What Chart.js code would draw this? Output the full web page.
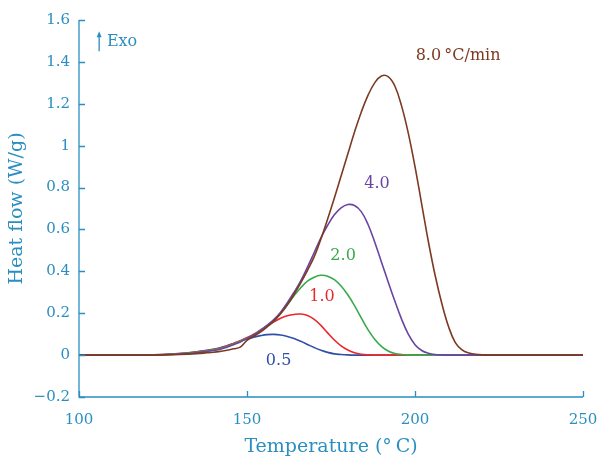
<!DOCTYPE html>
<html>
<head>
<meta charset="utf-8">
<script src="https://cdn.jsdelivr.net/npm/chart.js@4.4.1/dist/chart.umd.min.js"></script>
<style>
  html, body { margin: 0; padding: 0; background: #ffffff; }
  #wrap { width: 598px; height: 458px; position: relative; }
</style>
</head>
<body>
<div id="wrap"><canvas id="c" width="598" height="458"></canvas></div>
<script>
// ---- data ----
const temperature = [100,110,120,125,130,135,138,140,142,144,146,148,150,152,154,156,158,160,162,164,166,168,170,172,174,176,178,180,182,184,186,188,190,192,194,196,198,200,202,204,206,208,210,212,214,216,218,220,222,224,230,240,250];

const rate05 = [0,0,0,0.003,0.008,0.016,0.023,0.028,0.035,0.045,0.056,0.067,0.077,0.086,0.093,0.098,0.099,0.096,0.089,0.079,0.066,0.051,0.036,0.023,0.013,0.006,0.003,0.001,0,0,0,0,0,0,0,0,0,0,0,0,0,0,0,0,0,0,0,0,0,0,0,0,0];
const rate10 = [0,0,0,0.003,0.007,0.015,0.022,0.027,0.034,0.044,0.056,0.069,0.084,0.100,0.120,0.140,0.159,0.176,0.188,0.194,0.196,0.189,0.171,0.142,0.106,0.072,0.044,0.024,0.011,0.004,0.001,0,0,0,0,0,0,0,0,0,0,0,0,0,0,0,0,0,0,0,0,0,0];
const rate20 = [0,0,0,0.002,0.006,0.013,0.020,0.025,0.031,0.041,0.053,0.066,0.081,0.098,0.118,0.142,0.168,0.200,0.240,0.283,0.322,0.353,0.372,0.381,0.377,0.360,0.330,0.288,0.236,0.178,0.122,0.076,0.042,0.020,0.008,0.003,0.001,0,0,0,0,0,0,0,0,0,0,0,0,0,0,0,0];
const rate40 = [0,0,0,0.002,0.005,0.011,0.017,0.022,0.028,0.038,0.050,0.063,0.079,0.097,0.117,0.142,0.170,0.205,0.250,0.300,0.355,0.420,0.490,0.560,0.620,0.670,0.703,0.719,0.714,0.685,0.625,0.540,0.445,0.350,0.258,0.172,0.100,0.050,0.022,0.009,0.003,0.001,0,0,0,0,0,0,0,0,0,0,0];
const rate80 = [0,0,0,0.001,0.003,0.007,0.011,0.014,0.018,0.023,0.030,0.038,0.070,0.090,0.110,0.135,0.162,0.197,0.240,0.290,0.345,0.405,0.470,0.555,0.650,0.750,0.855,0.960,1.065,1.160,1.240,1.300,1.333,1.330,1.285,1.190,1.060,0.900,0.720,0.540,0.380,0.245,0.135,0.060,0.025,0.010,0.004,0.001,0,0,0,0,0];

const xTicks = [100,150,200,250];
const yTicks = [-0.2,0,0.2,0.4,0.6,0.8,1,1.2,1.4,1.6];

const seriesNames = ['0.5','1.0','2.0','4.0','8.0'];
const seriesValues = [rate05, rate10, rate20, rate40, rate80];
const seriesColors = ['#3050a8','#e8282c','#38aa4c','#6a44a2','#7c3a22'];

// label annotations (text, anchor in data coords)
const notes = [
  {text:'8.0\u2009\u00b0C/min', x:200.2, y:1.43, color:'#7c3a22', align:'left'},
  {text:'4.0', x:188.7, y:0.816, color:'#6a44a2', align:'center'},
  {text:'2.0', x:178.6, y:0.473, color:'#38aa4c', align:'center'},
  {text:'1.0', x:172.3, y:0.277, color:'#e8282c', align:'center'},
  {text:'0.5', x:159.4, y:-0.025, color:'#3050a8', align:'center'}
];

const AX = '#2a8fc0';
const SERIF = '"DejaVu Serif", "Liberation Serif", serif';

const datasets = seriesValues.map((vals, i) => ({
  label: seriesNames[i],
  data: temperature.map((t, k) => ({x: t, y: vals[k]})),
  borderColor: seriesColors[i],
  borderWidth: 1.6,
  pointRadius: 0,
  fill: false,
  tension: 0.4
})).reverse();

const decor = {
  id: 'decor',
  afterDraw(chart) {
    const ctx = chart.ctx;
    const xs = chart.scales.x, ys = chart.scales.y;
    const area = chart.chartArea;
    ctx.save();
    ctx.strokeStyle = AX;
    ctx.lineWidth = 1.3;
    ctx.beginPath();
    ctx.moveTo(area.left, area.top);
    ctx.lineTo(area.left, area.bottom);
    ctx.lineTo(area.right, area.bottom);
    ctx.stroke();
    ctx.beginPath();
    ys.ticks.forEach((t) => {
      const py = Math.round(ys.getPixelForValue(t.value)) + 0.5;
      ctx.moveTo(area.left, py);
      ctx.lineTo(area.left + 6, py);
    });
    xs.ticks.forEach((t) => {
      const px = Math.round(xs.getPixelForValue(t.value)) + 0.5;
      ctx.moveTo(px, area.bottom);
      ctx.lineTo(px, area.bottom - 6);
    });
    ctx.stroke();
    // Exo arrow
    const ax = xs.getPixelForValue(106);
    const ay = ys.getPixelForValue(1.494);
    ctx.beginPath();
    ctx.moveTo(ax, ay + 9);
    ctx.lineTo(ax, ay - 8);
    ctx.stroke();
    ctx.fillStyle = AX;
    ctx.beginPath();
    ctx.moveTo(ax - 2.5, ay - 5);
    ctx.lineTo(ax, ay - 11);
    ctx.lineTo(ax + 2.5, ay - 5);
    ctx.closePath();
    ctx.fill();
    ctx.font = '16px ' + SERIF;
    ctx.textBaseline = 'middle';
    ctx.textAlign = 'left';
    ctx.fillText('Exo', xs.getPixelForValue(108.3), ay);
    ctx.font = '16px ' + SERIF;
    notes.forEach(n => {
      ctx.fillStyle = n.color;
      ctx.textAlign = n.align;
      ctx.fillText(n.text, xs.getPixelForValue(n.x), ys.getPixelForValue(n.y));
    });
    ctx.restore();
  }
};

new Chart(document.getElementById('c'), {
  type: 'line',
  data: { datasets },
  options: {
    responsive: false,
    animation: false,
    devicePixelRatio: 1,
    layout: { padding: { top: 20, right: 15, left: 6, bottom: 0 } },
    plugins: { legend: { display: false }, tooltip: { enabled: false } },
    scales: {
      x: {
        type: 'linear',
        min: 100, max: 250,
        afterBuildTicks: (s) => { s.ticks = xTicks.map(v => ({value: v})); },
        afterFit: (s) => { s.height = 61; s.paddingRight = 0; s.paddingLeft = 0; },
        grid: { display: false, drawTicks: false },
        border: { display: false },
        ticks: { color: AX, font: { family: SERIF, size: 15 }, padding: 14, maxRotation: 0 },
        title: { display: true, text: 'Temperature (\u00b0\u2009C)', color: AX, font: { family: SERIF, size: 19 }, padding: { top: 4, bottom: 0 } }
      },
      y: {
        min: -0.2, max: 1.6,
        afterBuildTicks: (s) => { s.ticks = yTicks.map(v => ({value: v})); },
        afterFit: (s) => { s.width = 73; s.paddingTop = 0; s.paddingBottom = 0; },
        grid: { display: false, drawTicks: false },
        border: { display: false },
        ticks: {
          color: AX, font: { family: SERIF, size: 15 }, padding: 9,
          callback: (v) => { const r = Math.round(v * 10) / 10; return r < 0 ? '\u2212' + Math.abs(r) : String(r); }
        },
        title: { display: true, text: 'Heat flow (W/g)', color: AX, font: { family: SERIF, size: 19 }, padding: { top: 0, bottom: 4 } }
      }
    }
  },
  plugins: [decor]
});
</script>
</body>
</html>
